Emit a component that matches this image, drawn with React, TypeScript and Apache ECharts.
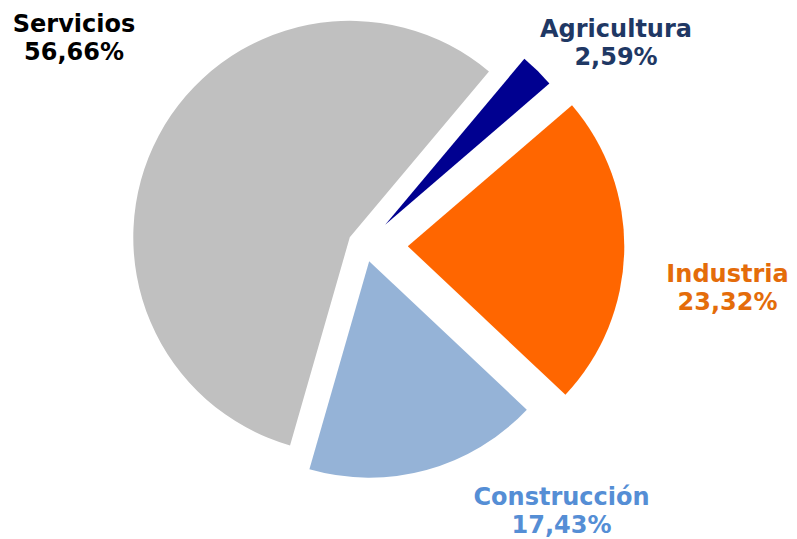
import React, { useEffect, useRef } from "react";
import * as echarts from "echarts";

// ---- Data ----
const categories: string[] = ["Agricultura", "Industria", "Construcción", "Servicios"];
const shares: number[] = [2.59, 23.32, 17.43, 56.66];

// ---- Styling (kept apart from the data) ----
const sliceColors = ["#000090", "#FF6600", "#95B3D7", "#C0C0C0"];
const labelColors = ["#1F3864", "#E46C0A", "#558ED5", "#000000"];
const explode = [29, 43, 16.5, 17];
const labelPos: [number, number][] = [
  [616, 42.5],
  [727.5, 287.5],
  [561.5, 510.5],
  [74, 37.5],
];

const CENTER: [number, number] = [364.8, 245.3];
const RADIUS = 216.5;
const FONT = 'bold 24px "DejaVu Sans", Verdana, sans-serif';

const fmt = (v: number) => v.toFixed(2).replace(".", ",") + "%";

export default function App() {
  const ref = useRef<HTMLDivElement>(null);

  useEffect(() => {
    if (!ref.current) return;
    const chart = echarts.init(ref.current, null, { renderer: "svg" });

    const series = categories.map((_, k) => ({
      type: "pie",
      center: CENTER,
      radius: RADIUS,
      startAngle: 50,
      clockwise: true,
      silent: true,
      selectedMode: "multiple",
      selectedOffset: explode[k],
      avoidLabelOverlap: false,
      label: { show: false },
      labelLine: { show: false },
      emphasis: { disabled: true },
      data: categories.map((name, i) => ({
        name,
        value: shares[i],
        selected: i === k,
        itemStyle: {
          color: sliceColors[i],
          opacity: i === k ? 1 : 0,
          borderWidth: 0,
        },
      })),
    }));

    const graphic = categories.map((name, i) => ({
      type: "text",
      x: labelPos[i][0],
      y: labelPos[i][1],
      silent: true,
      style: {
        text: name + "\n" + fmt(shares[i]),
        fill: labelColors[i],
        font: FONT,
        align: "center",
        verticalAlign: "middle",
        textAlign: "center",
        textVerticalAlign: "middle",
        lineHeight: 28,
      },
    }));

    chart.setOption({
      animation: false,
      backgroundColor: "#ffffff",
      series,
      graphic,
    } as any);

    return () => chart.dispose();
  }, []);

  return (
    <div
      ref={ref}
      style={{ position: "fixed", left: 0, top: 0, width: 797, height: 539 }}
    />
  );
}
